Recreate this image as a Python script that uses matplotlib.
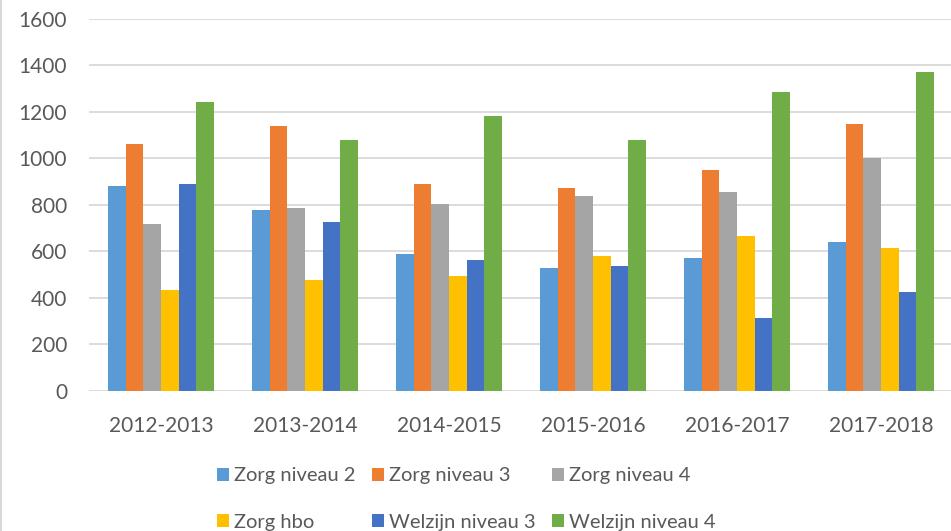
import matplotlib
matplotlib.use("Agg")
import matplotlib.pyplot as plt
import numpy as np
from matplotlib.patches import Patch
from matplotlib.lines import Line2D

categories = ["2012-2013", "2013-2014", "2014-2015", "2015-2016", "2016-2017", "2017-2018"]
series_names = ["Zorg niveau 2", "Zorg niveau 3", "Zorg niveau 4",
                "Zorg hbo", "Welzijn niveau 3", "Welzijn niveau 4"]
zorg_niveau_2 = [881, 778, 588, 528, 571, 640]
zorg_niveau_3 = [1062, 1139, 890, 872, 950, 1148]
zorg_niveau_4 = [717, 786, 804, 838, 855, 1002]
zorg_hbo = [433, 476, 494, 580, 666, 614]
welzijn_niveau_3 = [890, 726, 562, 537, 313, 425]
welzijn_niveau_4 = [1243, 1079, 1182, 1079, 1286, 1372]
y_ticks = [0, 200, 400, 600, 800, 1000, 1200, 1400, 1600]

series = [zorg_niveau_2, zorg_niveau_3, zorg_niveau_4, zorg_hbo, welzijn_niveau_3, welzijn_niveau_4]
colors = ["#5B9BD5", "#ED7D31", "#A5A5A5", "#FFC000", "#4472C4", "#70AD47"]

plt.rcParams['font.family'] = ['Lato', 'DejaVu Sans']
text_color = "#595959"
fs = 15

fig = plt.figure(figsize=(9.51, 5.31), dpi=100)
ax = fig.add_axes([89/951, 140.3/531, 864/951, 371.7/531])

x = np.arange(len(categories))
bw = 0.736 / len(series)
for i, (vals, c) in enumerate(zip(series, colors)):
    offs = (i - (len(series) - 1) / 2) * bw
    ax.bar(x + offs, vals, width=bw, color=c, label=series_names[i], zorder=3)

ax.set_xlim(-0.5, len(categories) - 0.5)
ax.set_ylim(0, 1600)
ax.set_yticks(y_ticks)
ax.set_yticklabels([str(t) for t in y_ticks])
ax.set_xticks(x)
ax.set_xticklabels(categories)
ax.tick_params(axis='both', length=0, labelsize=fs, labelcolor=text_color)
ax.tick_params(axis='y', pad=15.8)
ax.tick_params(axis='x', pad=18)
ax.yaxis.grid(True, color="#D9D9D9", linewidth=1.3, zorder=0)
ax.set_axisbelow(True)
for s in ax.spines.values():
    s.set_visible(False)

# legend: rows are [0,1,2] and [3,4,5]
order = [0, 3, 1, 4, 2, 5]
handles = [Patch(facecolor=colors[i], edgecolor='none') for i in order]
labels = [series_names[i] for i in order]
fig.legend(handles, labels, ncol=3, loc='center left',
           bbox_to_anchor=(217/951, (531 - 499)/531),
           frameon=False, fontsize=14.5, labelcolor=text_color,
           handlelength=0.6, handleheight=0.6, handletextpad=0.25,
           columnspacing=0.8, labelspacing=1.45, borderpad=0, borderaxespad=0)

fig.add_artist(Line2D([1/951, 1/951], [0, 1], transform=fig.transFigure,
                      color="#D9D9D9", linewidth=1.5))

fig.savefig("out.png", dpi=100)
